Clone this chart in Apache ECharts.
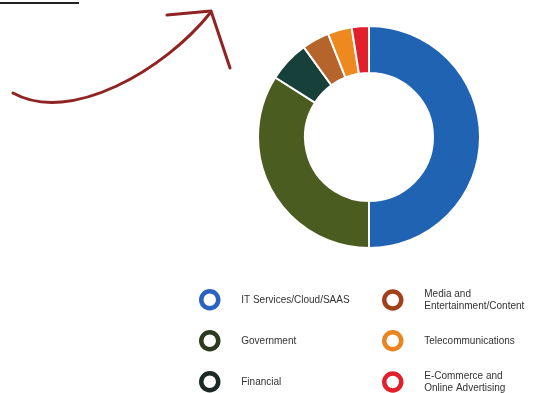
<!DOCTYPE html>
<html>
<head>
<meta charset="utf-8">
<script src="https://cdn.jsdelivr.net/npm/echarts@6/dist/echarts.min.js"></script>
<style>html,body{margin:0;padding:0;background:#fff;}#c{width:539px;height:393px;}</style>
</head>
<body>
<div id="c"></div>
<script>
const categories = ['IT Services/Cloud/SAAS', 'Government', 'Financial', 'Media and Entertainment/Content', 'Telecommunications', 'E-Commerce and Online Advertising'];
const values = [50, 34, 6, 4, 3.5, 2.5];
const sliceColors = ['#2163b3', '#4a5c1f', '#18403a', '#b5642c', '#ee891f', '#e2202b'];
const ringColors = ['#2a62c0', '#2e3a1f', '#1b2825', '#a2401b', '#ea8420', '#e2202b'];

const chart = echarts.init(document.getElementById('c'));
const rowCenters = [300, 341, 382];
const colLefts = [199, 382];
const legends = categories.map((c, i) => {
  const col = Math.floor(i / 3), row = i % 3;
  const twoLine = c.indexOf(' and ') >= 0;
  return {
    orient: 'vertical', padding: 0, itemWidth: 17, itemHeight: 17, icon: 'circle', selectedMode: false,
    left: colLefts[col], top: rowCenters[row] - (twoLine ? 18 : 11),
    textStyle: { fontFamily: 'Liberation Sans', fontSize: 10, color: '#333', lineHeight: 12,
      padding: twoLine ? [12, 0, 0, 18] : [0, 0, 0, 18] },
    formatter: n => n.replace(' and ', ' and\n'),
    data: [{ name: c, itemStyle: { color: '#fff', borderColor: ringColors[i], borderWidth: 4.5 } }]
  };
});
chart.setOption({
  animation: false,
  backgroundColor: '#fff',
  legend: legends,
  graphic: [
    { type: 'line', shape: { x1: 0, y1: 3, x2: 79, y2: 3 }, style: { stroke: '#222', lineWidth: 2 } },
    { type: 'bezierCurve', shape: { x1: 13, y1: 93, cpx1: 70, cpy1: 125, cpx2: 165, cpy2: 70, x2: 211, y2: 12 },
      style: { stroke: '#8e2424', lineWidth: 3, fill: null, lineCap: 'round' } },
    { type: 'polyline', shape: { points: [[167, 15], [211, 11], [230, 68]] },
      style: { stroke: '#8e2424', lineWidth: 3, fill: null, lineCap: 'round', lineJoin: 'round' } }
  ],
  series: [{
    type: 'pie',
    center: [369, 137],
    radius: [64, 111],
    startAngle: 90,
    label: { show: false },
    labelLine: { show: false },
    emphasis: { disabled: true },
    itemStyle: { borderColor: '#fff', borderWidth: 2 },
    data: categories.map((c, i) => ({ name: c, value: values[i], itemStyle: { color: sliceColors[i] } }))
  }]
});
</script>
</body>
</html>
